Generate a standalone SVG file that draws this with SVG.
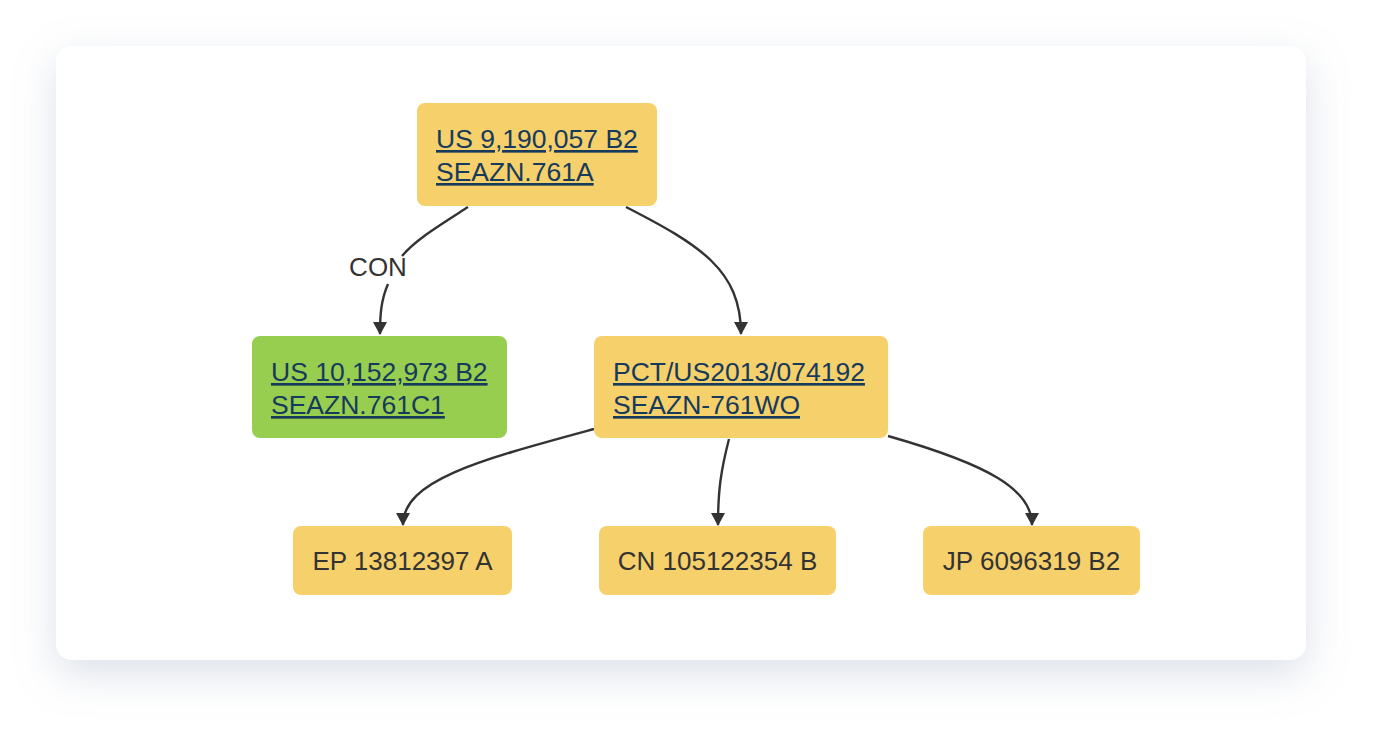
<svg xmlns="http://www.w3.org/2000/svg" width="1382" height="746" viewBox="0 0 1382 746">
<defs>
<filter id="sh" x="-10%" y="-15%" width="120%" height="135%">
<feDropShadow dx="0" dy="14" stdDeviation="20" flood-color="#8a9bb5" flood-opacity="0.3"/>
</filter>
<marker id="arr" viewBox="0 0 13 14" refX="12" refY="7" markerWidth="13" markerHeight="14" markerUnits="userSpaceOnUse" orient="auto">
<path d="M0,0 L13,7 L0,14 z" fill="#333"/>
</marker>
<style>
.n{fill:#f5d06b;}
.g{fill:#97ce4f;}
.lk{font-family:"Liberation Sans",Arial,sans-serif;font-size:26.5px;fill:#163a5c;text-decoration:underline;}
.t{font-family:"Liberation Sans",Arial,sans-serif;font-size:26px;fill:#333;text-anchor:middle;}
.e{fill:none;stroke:#333;stroke-width:2.4;}
.lbl{font-family:"Liberation Sans",Arial,sans-serif;font-size:26px;fill:#333;text-anchor:middle;}
</style>
</defs>
<rect width="1382" height="746" fill="#ffffff"/>
<rect x="56" y="46" width="1250" height="614" rx="16" fill="#ffffff" filter="url(#sh)"/>
<g id="connectors">
<path class="e" d="M468,207 C440,225 415,240 402,256"/>
<path class="e" d="M388,284 C381,300 380,315 380,334" marker-end="url(#arr)"/>
<path class="e" d="M626,207 C700,245 741,270 741,334" marker-end="url(#arr)"/>
<path class="e" d="M594,429 C480,460 403,480 403,525" marker-end="url(#arr)"/>
<path class="e" d="M729,439 C721,470 718,490 718,525" marker-end="url(#arr)"/>
<path class="e" d="M888,436 C990,465 1032,490 1032,525" marker-end="url(#arr)"/>
<text class="lbl" x="378" y="276">CON</text>
</g>
<g id="node-us9190057">
<rect class="n" x="417" y="103" width="240" height="103" rx="8"/>
<text class="lk" x="436" y="148">US 9,190,057 B2</text>
<text class="lk" x="436" y="181">SEAZN.761A</text>
</g>
<g id="node-us10152973">
<rect class="g" x="252" y="336" width="255" height="102" rx="8"/>
<text class="lk" x="271" y="381">US 10,152,973 B2</text>
<text class="lk" x="271" y="414">SEAZN.761C1</text>
</g>
<g id="node-pct">
<rect class="n" x="594" y="336" width="294" height="102" rx="8"/>
<text class="lk" x="613" y="381">PCT/US2013/074192</text>
<text class="lk" x="613" y="414">SEAZN-761WO</text>
</g>
<g id="node-ep">
<rect class="n" x="293" y="526" width="219" height="69" rx="8"/>
<text class="t" x="402.5" y="570">EP 13812397 A</text>
</g>
<g id="node-cn">
<rect class="n" x="599" y="526" width="237" height="69" rx="8"/>
<text class="t" x="717.5" y="570">CN 105122354 B</text>
</g>
<g id="node-jp">
<rect class="n" x="923" y="526" width="217" height="69" rx="8"/>
<text class="t" x="1031.5" y="570">JP 6096319 B2</text>
</g>
</svg>
